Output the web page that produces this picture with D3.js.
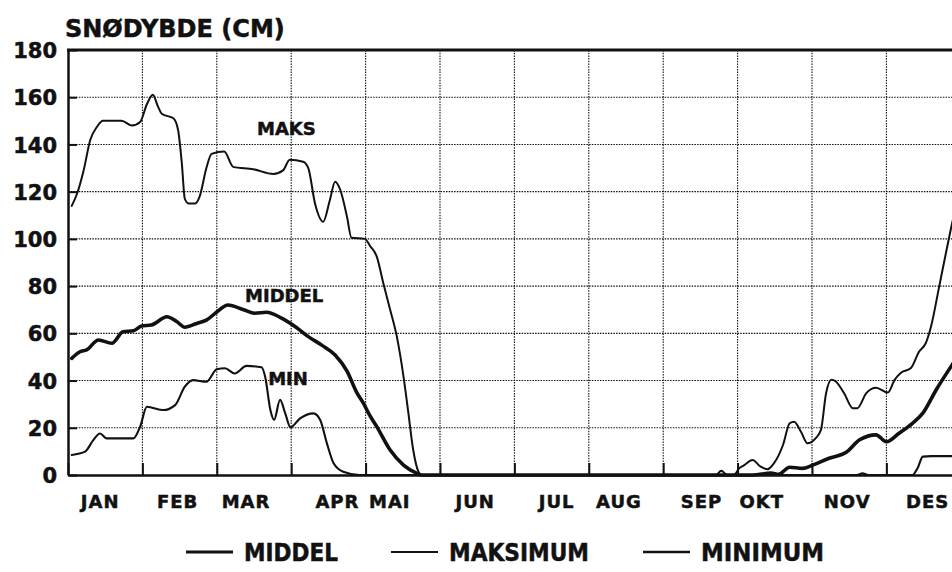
<!DOCTYPE html>
<html>
<head>
<meta charset="utf-8">
<script src="https://cdn.jsdelivr.net/npm/d3@7"></script>
<style>
  body { margin: 0; background: #fff; }
  text { font-family: "DejaVu Sans", sans-serif; font-weight: bold; fill: #111; stroke: #111; stroke-width: 0.5px; }
</style>
</head>
<body>
<div id="chart"></div>
<script>
/* global d3 */

// months on the x axis, values in cm; x of each point is in months (0 = 1 Jan, 12 = 31 Dec)
const months = ['JAN', 'FEB', 'MAR', 'APR', 'MAI', 'JUN', 'JUL', 'AUG', 'SEP', 'OKT', 'NOV', 'DES'];
const yTicks = [0, 20, 40, 60, 80, 100, 120, 140, 160, 180];

const middel = [
  [0.05, 49.4], [0.16, 52.2], [0.25, 53], [0.41, 57.2], [0.59, 55.8], [0.74, 60.7], [0.88, 61.1],
  [0.99, 63.1], [1.12, 63.5], [1.33, 67], [1.46, 65], [1.57, 62.6], [1.73, 64.2], [1.86, 65.6],
  [2.0, 69], [2.15, 72], [2.36, 70], [2.51, 68.5], [2.67, 68.9], [2.85, 66.8], [3.07, 62.5],
  [3.23, 58.6], [3.41, 55], [3.59, 50.8], [3.75, 44], [3.88, 35], [3.97, 30.4], [4.06, 25],
  [4.15, 20.5], [4.33, 10.6], [4.51, 4.2], [4.69, 0.7], [4.75, 0], [9.2, 0], [9.45, 0.8],
  [9.55, 0.3], [9.7, 3.3], [9.87, 2.8], [10.01, 4.2], [10.23, 7.1], [10.46, 9.6], [10.64, 14.9],
  [10.86, 17], [11.0, 14.1], [11.17, 17.7], [11.35, 21.9], [11.49, 26.2], [11.67, 36.1],
  [11.87, 46], [12, 52],
];

const maks = [
  [0.05, 114], [0.12, 119], [0.21, 129], [0.3, 142], [0.39, 147.5], [0.47, 150], [0.72, 150],
  [0.86, 148], [0.97, 149.5], [1.06, 157], [1.14, 161], [1.21, 156], [1.26, 153], [1.42, 151],
  [1.48, 146], [1.53, 132], [1.57, 117], [1.62, 115], [1.71, 115], [1.77, 118], [1.86, 130],
  [1.93, 136], [2.1, 137], [2.22, 130.5], [2.49, 129.5], [2.76, 127.5], [2.89, 129], [2.98, 133.5],
  [3.16, 132.7], [3.23, 130], [3.32, 115], [3.43, 107.3], [3.52, 116.5], [3.59, 124.2],
  [3.66, 120.7], [3.75, 109.4], [3.81, 100.5], [3.99, 100], [4.06, 97], [4.15, 92.5], [4.24, 81],
  [4.33, 70], [4.42, 58.6], [4.51, 41.6], [4.57, 27.5], [4.64, 10.6], [4.71, 1.4], [4.75, 0],
  [8.71, 0], [8.78, 1.8], [8.86, 0], [8.95, 0], [9.02, 2.8], [9.09, 4.2], [9.2, 6.4], [9.31, 3.5],
  [9.4, 2.4], [9.49, 5], [9.61, 12.7], [9.7, 21.9], [9.76, 22.6], [9.85, 18.4], [9.94, 13.4],
  [10.05, 15.6], [10.12, 19.1], [10.19, 34.7], [10.26, 40.3], [10.32, 39.6], [10.43, 34.7],
  [10.55, 28.3], [10.61, 28.3], [10.73, 34.7], [10.86, 37], [11.02, 34.9], [11.11, 40.3],
  [11.2, 43.4], [11.33, 45.3], [11.44, 52.3], [11.53, 55.9], [11.6, 62.9], [11.71, 79.9],
  [11.8, 94], [11.87, 104.7], [12, 122],
];

const minimum = [
  [0.05, 8.5], [0.23, 9.9], [0.34, 14.8], [0.43, 17.6], [0.52, 15.5], [0.88, 15.5], [0.97, 20.5],
  [1.06, 28.9], [1.28, 27.5], [1.44, 29.6], [1.57, 37.4], [1.68, 40.2], [1.86, 39.5], [2.0, 44.8],
  [2.11, 45.2], [2.24, 43], [2.4, 46.2], [2.6, 45.6], [2.65, 41.6], [2.72, 27.5], [2.77, 23.3],
  [2.85, 31.8], [2.92, 26.1], [2.99, 20.2], [3.12, 24], [3.3, 26.1], [3.39, 23.3], [3.48, 13.4],
  [3.57, 5], [3.7, 1.4], [3.92, 0], [10.6, 0], [10.68, 0.7], [10.76, 0], [11.35, 0], [11.42, 3],
  [11.49, 7.8], [11.6, 8], [12, 8],
];

const legendNames = ['MIDDEL', 'MAKSIMUM', 'MINIMUM'];
const curveNames = ['MIDDEL', 'MAKS', 'MIN'];

const w = 952;
const h = 572;

// label nudges (px) so month names sit like the typed originals
const labelShift = [-5, -2, -8, 9, -13, -2, 5, -7, 1, -13, -2, 4];

const svg = d3.select('#chart')
  .append('svg')
  .attr('width', w)
  .attr('height', h);

const x = d3.scaleLinear().domain([0, 12]).range([68, 68 + 12 * 74.4]);
const y = d3.scaleLinear().domain([0, 180]).range([475, 50]);

// dotted grid
const grid = svg.append('g')
  .attr('stroke', '#111')
  .attr('stroke-width', 1.1)
  .attr('stroke-dasharray', '1.5,1.2');

grid.selectAll('line.h')
  .data(yTicks.filter((d) => d > 0 && d < 180))
  .join('line')
  .attr('class', 'h')
  .attr('x1', x(0))
  .attr('x2', w)
  .attr('y1', (d) => y(d))
  .attr('y2', (d) => y(d));

grid.selectAll('line.v')
  .data(d3.range(1, 12))
  .join('line')
  .attr('class', 'v')
  .attr('x1', (d) => x(d))
  .attr('x2', (d) => x(d))
  .attr('y1', y(180))
  .attr('y2', y(0));

// axes
const yAxis = svg.append('g')
  .attr('transform', `translate(${x(0)},0)`)
  .call(d3.axisLeft(y).tickValues(yTicks).tickSize(-9).tickSizeOuter(0).tickPadding(11));

yAxis.select('.domain').attr('stroke', '#111').attr('stroke-width', 2.5);
yAxis.selectAll('.tick line').attr('stroke', '#111').attr('stroke-width', 2);
yAxis.selectAll('.tick text')
  .attr('font-family', null)
  .style('font-size', '21px')
  .attr('dy', '0.36em');
yAxis.attr('font-family', null).attr('font-size', null);

const xAxis = svg.append('g')
  .attr('transform', `translate(0,${y(0)})`)
  .call(d3.axisBottom(x).tickValues(d3.range(0, 13)).tickSize(-12).tickSizeOuter(0).tickFormat(''));

xAxis.select('.domain').attr('stroke', '#111').attr('stroke-width', 2.5);
xAxis.selectAll('.tick line').attr('stroke', '#111').attr('stroke-width', 2);

svg.append('line')
  .attr('x1', x(0) - 1)
  .attr('x2', x(12))
  .attr('y1', y(180))
  .attr('y2', y(180))
  .attr('stroke', '#111')
  .attr('stroke-width', 3);

// month names
svg.append('g')
  .selectAll('text')
  .data(months)
  .join('text')
  .attr('x', (d, i) => x(i + 0.5) + labelShift[i])
  .attr('y', 508)
  .attr('text-anchor', 'middle')
  .style('font-size', '18px')
  .style('letter-spacing', '1px')
  .text((d) => d);

// title
svg.append('text')
  .attr('x', 65)
  .attr('y', 37)
  .style('font-size', '24px')
  .text('SNØDYBDE (CM)');

// curves
const line = d3.line()
  .x((d) => x(d[0]))
  .y((d) => y(d[1]))
  .curve(d3.curveMonotoneX);

const series = [
  { data: middel, width: 3.6 },
  { data: maks, width: 2 },
  { data: minimum, width: 2.1 },
];

svg.append('g')
  .selectAll('path')
  .data(series)
  .join('path')
  .attr('d', (d) => line(d.data))
  .attr('fill', 'none')
  .attr('stroke', '#111')
  .attr('stroke-width', (d) => d.width)
  .attr('stroke-linejoin', 'round')
  .attr('stroke-linecap', 'round');

// labels on the curves
const curveLabelAt = [[2.38, 73.3], [2.54, 144], [2.69, 38.1]];
svg.append('g')
  .selectAll('text')
  .data(curveNames)
  .join('text')
  .attr('x', (d, i) => x(curveLabelAt[i][0]))
  .attr('y', (d, i) => y(curveLabelAt[i][1]))
  .style('font-size', '18px')
  .text((d) => d);

// legend
const legendX = [186, 391, 643];
const legendTextW = [94, 140, 123];
const legendStroke = [3, 2.2, 2.6];

const legend = svg.append('g')
  .selectAll('g')
  .data(legendNames)
  .join('g')
  .attr('transform', (d, i) => `translate(${legendX[i]},552)`);

legend.append('line')
  .attr('x1', 0)
  .attr('x2', 47)
  .attr('stroke', '#111')
  .attr('stroke-width', (d, i) => legendStroke[i]);

legend.append('text')
  .attr('x', 58)
  .attr('y', 9)
  .attr('textLength', (d, i) => legendTextW[i])
  .attr('lengthAdjust', 'spacingAndGlyphs')
  .style('font-size', '24px')
  .text((d) => d);
</script>
</body>
</html>
